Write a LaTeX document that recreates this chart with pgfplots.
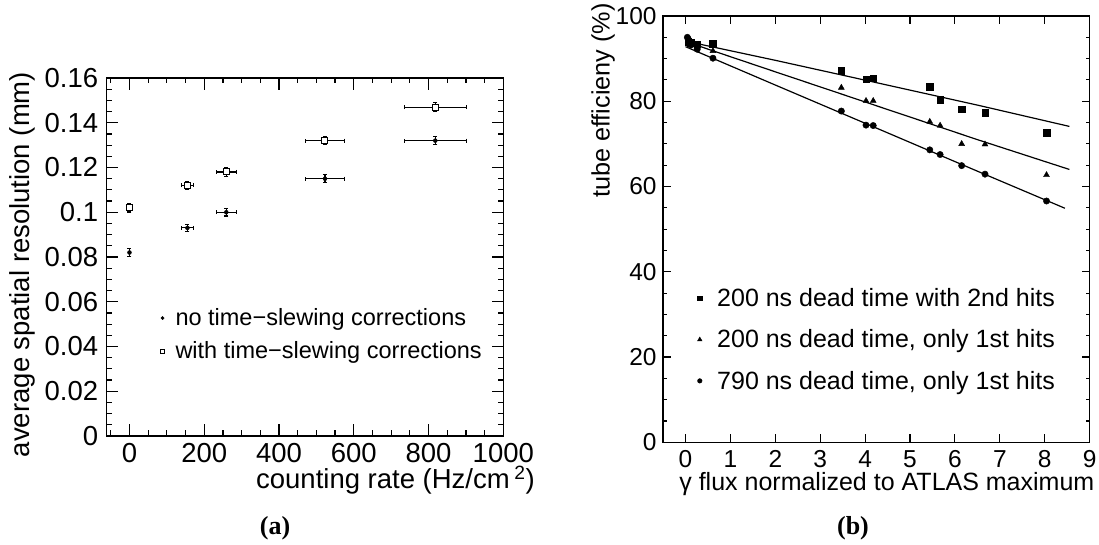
\documentclass[border=0pt]{standalone}
\usepackage{fontspec}
\setmainfont{Liberation Sans}
\newfontfamily\capfont{Liberation Serif}
\usepackage{pgfplots}
\pgfplotsset{compat=1.18}

% ---------- data ----------
% panel (a): x  y  ex  ey
\pgfplotstableread{
x    y      ex    ey
155  0.093  16.5  0.0017
259  0.100  27    0.0017
523  0.115  52    0.0017
818  0.132  82.5  0.0017
}\nocorr
\pgfplotstableread{
x    y      ex    ey
155  0.112  16.5  0.0019
259  0.118  27    0.0019
523  0.132  52    0.0019
818  0.147  82.5  0.0019
}\withcorr

\begin{document}
\begin{tikzpicture}[x=1pt,y=1pt]
\path[use as bounding box] (0pt,0pt) rectangle (1099pt,545pt);

% ================= panel (a) =================
\begin{axis}[
  at={(106.3pt,109pt)}, anchor=south west,
  scale only axis, width=397pt, height=358pt,
  xmin=-62, xmax=1000, ymin=0, ymax=0.16,
  xtick={0,200,400,600,800,1000},
  xticklabels={0,200,400,600,800,1000},
  minor xtick={-50,0,...,1000},
  ytick={0,0.02,0.04,0.06,0.08,0.1,0.12,0.14,0.16},
  yticklabels={0,0.02,0.04,0.06,0.08,0.1,0.12,0.14,0.16},
  minor ytick={0.005,0.01,0.015,0.02,0.025,0.03,0.035,0.04,0.045,0.05,0.055,0.06,0.065,0.07,0.075,0.08,0.085,0.09,0.095,0.1,0.105,0.11,0.115,0.12,0.125,0.13,0.135,0.14,0.145,0.15,0.155},
  tick pos=both, tick align=inside,
  major tick length=11.7pt, minor tick length=5.5pt,
  every tick/.style={black, line width=1.2pt},
  axis line style={line width=1.5pt},
  /pgf/number format/assume math mode=true,
  tick label style={font=\fontsize{27.5}{30}\selectfont, inner sep=0pt},
  xticklabel style={yshift=-7pt},
  yticklabel style={xshift=-8pt},
  xlabel={counting rate (Hz/cm\,\textsuperscript{2})},
  xlabel style={font=\fontsize{27.5}{30}\selectfont, inner sep=0pt, at={(axis description cs:1.0798,-0.148)}, anchor=base east},
  ylabel={average spatial resolution (mm)},
  ylabel style={font=\fontsize{27.5}{30}\selectfont, inner sep=0pt, at={(axis description cs:-0.1796,1.0176)}, anchor=south east},
  legend style={draw=none, fill=none, inner sep=0pt, outer sep=0pt,
    at={(axis description cs:0.1363,0.3575)}, anchor=north west,
    column sep=10.7pt, row sep=11.3pt,
    font=\fontsize{23.5}{26}\selectfont,
    nodes={inner sep=0pt, text height=17pt, text depth=5pt},
    cells={anchor=base west}},
  legend image code/.code={\draw[#1] plot coordinates {(0pt,7pt)};},
]
\addlegendimage{only marks, mark=*, mark size=1.6pt, black}
\addlegendentry{no time−slewing corrections}
\addlegendimage{only marks, mark=square, mark size=2.2pt, black, line width=0.8pt}
\addlegendentry{with time−slewing corrections}

% no corrections
\addplot[forget plot, only marks, mark=*, mark size=2pt, black,
  error bars/.cd, x dir=both, x explicit, y dir=both, y explicit,
  error bar style={line width=1.1pt, black},
  error mark options={rotate=90, mark size=2pt, line width=1.1pt, black}]
  table[x=x, y=y, x error=ex, y error=ey] {\nocorr};
\addplot[forget plot, only marks, mark=*, mark size=2pt, black,
  error bars/.cd, y dir=both, y explicit,
  error bar style={line width=1.1pt, black},
  error mark options={rotate=90, mark size=2pt, line width=1.1pt, black}]
  coordinates {(0,0.082) +- (0,0.0017)};
% with corrections
\addplot[forget plot, only marks, mark=square*, mark size=3pt, black,
  mark options={fill=white, line width=1pt},
  error bars/.cd, x dir=both, x explicit, y dir=both, y explicit,
  error bar style={line width=1.1pt, black},
  error mark options={rotate=90, mark size=2pt, line width=1.1pt, black}]
  table[x=x, y=y, x error=ex, y error=ey] {\withcorr};
\addplot[forget plot, only marks, mark=square*, mark size=3pt, black,
  mark options={fill=white, line width=1pt},
  error bars/.cd, y dir=both, y explicit,
  error bar style={line width=1.1pt, black},
  error mark options={rotate=90, mark size=2pt, line width=1.1pt, black}]
  coordinates {(0,0.102) +- (0,0.0019)};
\end{axis}

% ================= panel (b) =================
\begin{axis}[
  at={(663.1pt,102.7pt)}, anchor=south west,
  scale only axis, width=426.5pt, height=426.3pt,
  xmin=-0.5, xmax=9, ymin=0, ymax=100,
  xtick={0,1,2,3,4,5,6,7,8,9},
  xticklabels={0,1,2,3,4,5,6,7,8,9},
  ytick={0,20,40,60,80,100},
  yticklabels={0,20,40,60,80,100},
  minor ytick={0,5,...,100},
  tick pos=both, tick align=inside,
  major tick length=8pt, minor tick length=4pt,
  every tick/.style={black, line width=1.1pt},
  axis line style={line width=1.3pt},
  /pgf/number format/assume math mode=true,
  tick label style={font=\fontsize{24.5}{27}\selectfont, inner sep=0pt},
  xticklabel style={yshift=-8.3pt},
  yticklabel style={xshift=-6.3pt},
  xlabel={γ flux normalized to ATLAS maximum},
  xlabel style={font=\fontsize{25}{27}\selectfont, inner sep=0pt, at={(axis description cs:1.0115,-0.1135)}, anchor=base east},
  ylabel={tube efficieny (\%)},
  ylabel style={font=\fontsize{25.2}{27}\selectfont, inner sep=0pt, at={(axis description cs:-0.1128,1.0298)}, anchor=south east},
  legend style={draw=none, fill=none, inner sep=0pt, outer sep=0pt,
    at={(axis description cs:0.0804,0.3627)}, anchor=north west,
    column sep=15pt, row sep=16.3pt,
    font=\fontsize{25}{27}\selectfont,
    nodes={inner sep=0pt, text height=19pt, text depth=6pt},
    cells={anchor=base west}},
  legend image code/.code={\draw[#1] plot coordinates {(0pt,8.4pt)};},
]
\addlegendimage{only marks, mark=square*, mark size=2.4pt, black}
\addlegendentry{200 ns dead time with 2nd hits}
\addlegendimage{only marks, mark=triangle*, mark size=2.6pt, black}
\addlegendentry{200 ns dead time, only 1st hits}
\addlegendimage{only marks, mark=*, mark size=2.3pt, black}
\addlegendentry{790 ns dead time, only 1st hits}

% fit lines
\addplot[forget plot, black, line width=1.2pt, no marks] coordinates {
 (0,94.1) (2,89.6) (4.32,84.2) (6.5,79.1) (8.55,74.1)};
\addplot[forget plot, black, line width=1.2pt, no marks] coordinates {
 (0,94.0) (2,86.9) (4.32,78.7) (6.5,71.0) (8.55,64.0)};
\addplot[forget plot, black, line width=1.2pt, no marks] coordinates {
 (0,92.8) (2,83.8) (4.32,73.4) (6.5,63.6) (8.45,54.9)};

% data
\addplot[forget plot, only marks, mark=square*, mark size=3.3pt, black] coordinates {
 (0.06,94.0) (0.12,93.8) (0.26,93.4) (0.61,93.5) (3.47,87.1) (4.02,85.2) (4.18,85.4)
 (5.44,83.4) (5.67,80.3) (6.15,78.1) (6.67,77.3) (8.04,72.6)};
\addplot[forget plot, only marks, mark=triangle*, mark size=3.4pt, black] coordinates {
 (0.06,94.3) (0.12,93.5) (0.26,92.8) (0.61,91.8) (3.47,83.2) (4.02,80.1) (4.18,80.1)
 (5.44,75.2) (5.67,74.3) (6.15,70.0) (6.67,69.9) (8.04,62.7)};
\addplot[forget plot, only marks, mark=*, mark size=3.2pt, black] coordinates {
 (0.04,95.0) (0.06,94.6) (0.09,93.6) (0.12,93.2) (0.26,92.2) (0.61,90.1) (3.47,77.7)
 (4.02,74.4) (4.18,74.3) (5.44,68.6) (5.67,67.5) (6.15,64.9) (6.67,62.9) (8.04,56.6)};
\end{axis}

% captions
\node[font=\capfont\bfseries\fontsize{26}{28}\selectfont, anchor=base, inner sep=0pt] at (275pt,10pt) {(a)};
\node[font=\capfont\bfseries\fontsize{26}{28}\selectfont, anchor=base, inner sep=0pt] at (853pt,10pt) {(b)};
\end{tikzpicture}
\end{document}
